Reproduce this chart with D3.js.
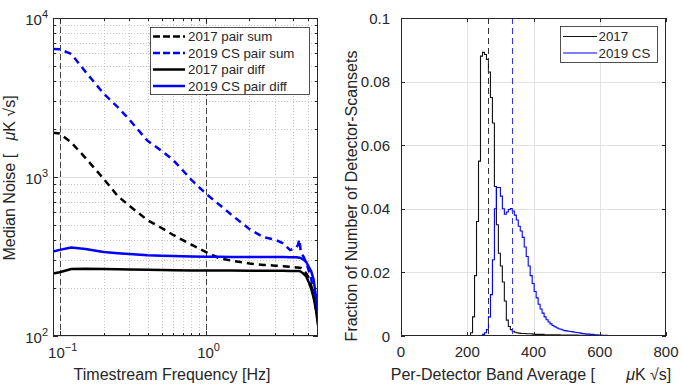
<!DOCTYPE html>
<html>
<head>
<meta charset="utf-8">
<script src="https://cdn.jsdelivr.net/npm/d3@7"></script>
<style>
body { margin: 0; background: #fff; }
text { font-family: "Liberation Sans", Arial, sans-serif; fill: #262626; white-space: pre; }
</style>
</head>
<body>
<svg id="chart" width="681" height="385"></svg>
<script>
// ---- left panel: median noise spectra ----
const freq      = [0.09, 0.1, 0.12, 0.15, 0.2, 0.25, 0.3, 0.4, 0.5, 0.6, 0.8, 1.0, 1.25, 1.5, 2.0, 2.5, 3.0, 3.4, 3.8, 4.2, 4.3, 4.4, 4.5, 4.7, 4.9, 5.1, 5.3, 5.5, 5.7, 5.9];
const sum2017   = [1900, 1880, 1650, 1320, 975, 760, 660, 535, 478, 432, 375, 338, 308, 298, 286, 280, 277, 275, 272, 270, 270, 269, 268, 258, 248, 232, 208, 180, 150, 122];
const sum2019   = [6380, 6350, 5950, 4600, 3350, 2750, 2300, 1690, 1460, 1279, 960, 789, 667, 580, 470, 418, 404, 382, 347, 360, 375, 405, 335, 315, 290, 258, 228, 195, 160, 138];
const diff2017  = [247, 252, 264, 265, 264, 263, 262, 261, 260, 259, 258, 258, 258, 258, 257, 257, 257, 257, 256, 256, 256, 256, 254, 246, 237, 218, 198, 175, 148, 117];
const diff2019  = [340, 348, 360, 352, 338, 332, 328, 322, 320, 318, 316, 315, 315, 314, 314, 314, 314, 314, 313, 313, 312, 311, 309, 302, 292, 272, 255, 228, 180, 142];
const noiseLegend = ["2017 pair sum", "2019 CS pair sum", "2017 pair diff", "2019 CS pair diff"];
const refFreqs = [0.1, 1];

// ---- right panel: histograms of band average noise ----
const binWidth = 6;
const hist2017Start = 204;
const hist2017 = [0, 0.001, 0.006, 0.019, 0.036, 0.055, 0.088, 0.0892, 0.0885, 0.087, 0.083, 0.075, 0.067, 0.047,
  0.035, 0.026, 0.022, 0.017, 0.011, 0.005, 0.003, 0.002, 0.0015, 0.0012, 0.001, 0.0009, 0.0008, 0.0008, 0.0008,
  0.0007, 0.0007, 0.0007, 0.0006, 0.0005, 0.0005, 0.0005, 0.0005, 0.0005, 0.0004, 0.0004, 0.0004, 0.0004, 0.0004,
  0.0004, 0.0004, 0.0004, 0.0003, 0.0003, 0.0003, 0.0003, 0.0003, 0.0003, 0.0003, 0.0003, 0.0003, 0.0002, 0.0002,
  0.0002, 0.0002, 0.0002, 0.0002, 0.0002, 0.0001, 0.0001, 0.0001, 0.0001, 0.0001, 0.0001, 0.0001, 0.0001, 0];
const hist2019Start = 246;
const hist2019 = [0.0005, 0.001, 0.002, 0.006, 0.013, 0.024, 0.040, 0.0467, 0.0467, 0.044, 0.040, 0.0383, 0.039,
  0.0398, 0.0401, 0.0393, 0.038, 0.0365, 0.0345, 0.033, 0.031, 0.028, 0.025, 0.022, 0.019, 0.0165, 0.014, 0.012,
  0.010, 0.0085, 0.0072, 0.006, 0.0051, 0.0044, 0.0038, 0.0033, 0.0029, 0.0026, 0.0023, 0.0021, 0.0019, 0.0017,
  0.0016, 0.0015, 0.0014, 0.0013, 0.0012, 0.0011, 0.001, 0.0009, 0.0008, 0.0007, 0.0006, 0.0006, 0.0005, 0.0005,
  0.0004, 0.0004, 0.0003, 0.0003, 0.0002, 0.0002, 0.0002, 0.0001, 0.0001, 0.0001, 0.0001, 0];
const histMeans = [264, 336];
const histLegend = ["2017", "2019 CS"];
const histTicksX = [0, 200, 400, 600, 800];
const histTicksY = [0, 0.02, 0.04, 0.06, 0.08, 0.1];

const axisColor = "#262626";
const svg = d3.select("#chart");

// ================= left panel =================
const L = {x0: 53, x1: 318, y0: 18, y1: 336};
const xL = d3.scaleLog().domain([0.09, 5.9]).range([L.x0, L.x1]);
const yL = d3.scaleLog().domain([100, 10000]).range([L.y1, L.y0]);
const gL = svg.append("g");

svg.append("clipPath").attr("id", "clipL").append("rect")
    .attr("x", L.x0).attr("y", L.y0).attr("width", L.x1 - L.x0).attr("height", L.y1 - L.y0);

const xTicksL = xL.ticks().filter(d => d > 0.095);
const yTicksL = yL.ticks();
const isPow = d => Math.abs(Math.log10(d) - Math.round(Math.log10(d))) < 1e-9;

// grid
xTicksL.forEach(function(d) {
  gL.append("line")
    .attr("x1", Math.round(xL(d)) + 0.5).attr("x2", Math.round(xL(d)) + 0.5)
    .attr("y1", L.y0).attr("y2", L.y1)
    .attr("stroke", isPow(d) ? "#e3e3e3" : "#c4c4c4")
    .attr("stroke-dasharray", isPow(d) ? null : "1,2");
});
yTicksL.forEach(function(d) {
  gL.append("line")
    .attr("x1", L.x0).attr("x2", L.x1)
    .attr("y1", Math.round(yL(d)) + 0.5).attr("y2", Math.round(yL(d)) + 0.5)
    .attr("stroke", isPow(d) ? "#e3e3e3" : "#c4c4c4")
    .attr("stroke-dasharray", isPow(d) ? null : "1,2");
});

// reference lines
refFreqs.forEach(function(f) {
  gL.append("line")
    .attr("x1", Math.round(xL(f)) + 0.5).attr("x2", Math.round(xL(f)) + 0.5)
    .attr("y1", L.y0).attr("y2", L.y1)
    .attr("stroke", "#444").attr("stroke-width", 1)
    .attr("stroke-dasharray", "6,3");
});

// curves
const lineL = d3.line()
    .x(function(d) { return xL(d[0]); })
    .y(function(d) { return yL(d[1]); });
const noiseSeries = [
  {vals: sum2017,  color: "#000",    dash: "7,5"},
  {vals: sum2019,  color: "#0000ff", dash: "7,5"},
  {vals: diff2017, color: "#000",    dash: null},
  {vals: diff2019, color: "#0000ff", dash: null}
];
const curves = gL.append("g").attr("clip-path", "url(#clipL)");
noiseSeries.forEach(function(s) {
  curves.append("path")
    .datum(freq.map((f, i) => [f, s.vals[i]]))
    .attr("fill", "none")
    .attr("stroke", s.color)
    .attr("stroke-width", 2.5)
    .attr("stroke-linejoin", "round")
    .attr("stroke-dasharray", s.dash)
    .attr("d", lineL);
});

// frame + ticks
gL.append("rect")
    .attr("x", L.x0 + 0.5).attr("y", L.y0 + 0.5)
    .attr("width", L.x1 - L.x0 - 1).attr("height", L.y1 - L.y0 - 1)
    .attr("fill", "none").attr("stroke", axisColor);
xTicksL.forEach(function(d) {
  const x = Math.round(xL(d)) + 0.5, len = isPow(d) ? 5 : 3;
  gL.append("line").attr("x1", x).attr("x2", x).attr("y1", L.y1).attr("y2", L.y1 - len).attr("stroke", axisColor);
  gL.append("line").attr("x1", x).attr("x2", x).attr("y1", L.y0).attr("y2", L.y0 + len).attr("stroke", axisColor);
});
yTicksL.forEach(function(d) {
  const y = Math.round(yL(d)) + 0.5, len = isPow(d) ? 5 : 3;
  gL.append("line").attr("x1", L.x0).attr("x2", L.x0 + len).attr("y1", y).attr("y2", y).attr("stroke", axisColor);
  gL.append("line").attr("x1", L.x1).attr("x2", L.x1 - len).attr("y1", y).attr("y2", y).attr("stroke", axisColor);
});

// power-of-ten tick labels
function powLabel(x, y, exp, anchor) {
  const t = gL.append("text").attr("x", x).attr("y", y)
      .attr("text-anchor", anchor).style("font-size", "15px");
  t.append("tspan").text("10");
  t.append("tspan").attr("dy", -7).style("font-size", "11px").text(exp);
}
xTicksL.filter(isPow).forEach(function(d) {
  powLabel(xL(d) + 3, 358, String(Math.round(Math.log10(d))).replace("-", "\u2212"), "middle");
});
yTicksL.filter(isPow).forEach(function(d) {
  powLabel(48, yL(d) + 7, String(Math.round(Math.log10(d))), "end");
});

gL.append("text").attr("x", 172).attr("y", 380).attr("text-anchor", "middle")
    .style("font-size", "16px").text("Timestream Frequency [Hz]");
const yLab = gL.append("text").attr("transform", "translate(15,178) rotate(-90)")
    .attr("text-anchor", "middle").style("font-size", "16px");
yLab.append("tspan").text("Median Noise [   ");
yLab.append("tspan").style("font-style", "italic").text("\u03bc");
yLab.append("tspan").text("K \u221as]");

// legend
const legL = gL.append("g");
legL.append("rect").attr("x", 150.5).attr("y", 27.5).attr("width", 159).attr("height", 67)
    .attr("fill", "#fff").attr("stroke", axisColor).attr("stroke-width", 0.8);
noiseLegend.forEach(function(name, i) {
  const y = 36.5 + i * 16.5, s = noiseSeries[i];
  legL.append("line").attr("x1", 153).attr("x2", 185).attr("y1", y).attr("y2", y)
      .attr("stroke", s.color).attr("stroke-width", 2.5).attr("stroke-dasharray", s.dash ? "7,3" : null);
  legL.append("text").attr("x", 188).attr("y", y + 4.7).style("font-size", "13.3px").text(name);
});

// ================= right panel =================
const R = {x0: 401, x1: 666, y0: 18, y1: 336};
const xR = d3.scaleLinear().domain([0, 800]).range([R.x0, R.x1]);
const yR = d3.scaleLinear().domain([0, 0.1]).range([R.y1, R.y0]);
const gR = svg.append("g");

svg.append("clipPath").attr("id", "clipR").append("rect")
    .attr("x", R.x0).attr("y", R.y0 - 2).attr("width", R.x1 - R.x0).attr("height", R.y1 - R.y0 + 2);

histTicksX.slice(1, -1).forEach(function(d) {
  gR.append("line").attr("x1", Math.round(xR(d)) + 0.5).attr("x2", Math.round(xR(d)) + 0.5)
    .attr("y1", R.y0).attr("y2", R.y1).attr("stroke", "#e3e3e3");
});
histTicksY.slice(1, -1).forEach(function(d) {
  gR.append("line").attr("x1", R.x0).attr("x2", R.x1)
    .attr("y1", Math.round(yR(d)) + 0.5).attr("y2", Math.round(yR(d)) + 0.5).attr("stroke", "#e3e3e3");
});

// full set of bins 0..800, zero outside the listed range
function fullBins(start, vals) {
  const pts = [];
  for (let e = 0; e < 800; e += binWidth) {
    const k = Math.round((e - start) / binWidth);
    pts.push([e, (k >= 0 && k < vals.length) ? vals[k] : 0]);
  }
  pts.push([800, pts[pts.length - 1][1]]);
  return pts;
}
const stair = d3.line()
    .x(function(d) { return xR(d[0]); })
    .y(function(d) { return yR(d[1]); })
    .curve(d3.curveStepAfter);
const histSeries = [
  {pts: fullBins(hist2017Start, hist2017), color: "#111"},
  {pts: fullBins(hist2019Start, hist2019), color: "#0000ff"}
];
const hists = gR.append("g").attr("clip-path", "url(#clipR)");
histSeries.forEach(function(s) {
  hists.append("path").datum(s.pts)
    .attr("fill", "none").attr("stroke", s.color).attr("stroke-width", 1.1)
    .attr("d", stair);
});

// mean lines
histMeans.forEach(function(m, i) {
  gR.append("line").attr("x1", Math.round(xR(m)) + 0.5).attr("x2", Math.round(xR(m)) + 0.5)
    .attr("y1", R.y0).attr("y2", R.y1)
    .attr("stroke", i === 0 ? "#333" : "#3333ff").attr("stroke-width", 1)
    .attr("stroke-dasharray", "6,4");
});

gR.append("rect")
    .attr("x", R.x0 + 0.5).attr("y", R.y0 + 0.5)
    .attr("width", R.x1 - R.x0 - 1).attr("height", R.y1 - R.y0 - 1)
    .attr("fill", "none").attr("stroke", axisColor);
histTicksX.forEach(function(d) {
  const x = Math.round(xR(d)) + 0.5;
  gR.append("line").attr("x1", x).attr("x2", x).attr("y1", R.y1).attr("y2", R.y1 - 4).attr("stroke", axisColor);
  gR.append("line").attr("x1", x).attr("x2", x).attr("y1", R.y0).attr("y2", R.y0 + 4).attr("stroke", axisColor);
  gR.append("text").attr("x", xR(d)).attr("y", 357).attr("text-anchor", "middle")
    .style("font-size", "15px").text(d);
});
histTicksY.forEach(function(d) {
  const y = Math.round(yR(d)) + 0.5;
  gR.append("line").attr("x1", R.x0).attr("x2", R.x0 + 4).attr("y1", y).attr("y2", y).attr("stroke", axisColor);
  gR.append("line").attr("x1", R.x1).attr("x2", R.x1 - 4).attr("y1", y).attr("y2", y).attr("stroke", axisColor);
  gR.append("text").attr("x", 390).attr("y", yR(d) + 5.5).attr("text-anchor", "end")
    .style("font-size", "15px").text(d === 0 ? "0" : d3.format("~g")(d));
});

const xLabR = gR.append("text").attr("x", 531).attr("y", 380).attr("text-anchor", "middle").style("font-size", "16px");
xLabR.append("tspan").text("Per-Detector Band Average [       ");
xLabR.append("tspan").style("font-style", "italic").text("\u03bc");
xLabR.append("tspan").text("K \u221as]");
gR.append("text").attr("transform", "translate(357,196) rotate(-90)")
    .attr("text-anchor", "middle").style("font-size", "16px")
    .text("Fraction of Number of Detector-Scansets");

const legR = gR.append("g");
legR.append("rect").attr("x", 560.5).attr("y", 26.5).attr("width", 97).attr("height", 36)
    .attr("fill", "#fff").attr("stroke", axisColor).attr("stroke-width", 0.8);
histLegend.forEach(function(name, i) {
  const y = 36.5 + i * 16.5;
  legR.append("line").attr("x1", 563).attr("x2", 597).attr("y1", y).attr("y2", y)
      .attr("stroke", histSeries[i].color).attr("stroke-width", 1.1);
  legR.append("text").attr("x", 598.5).attr("y", y + 4.7).style("font-size", "13.3px").text(name);
});
</script>
</body>
</html>
